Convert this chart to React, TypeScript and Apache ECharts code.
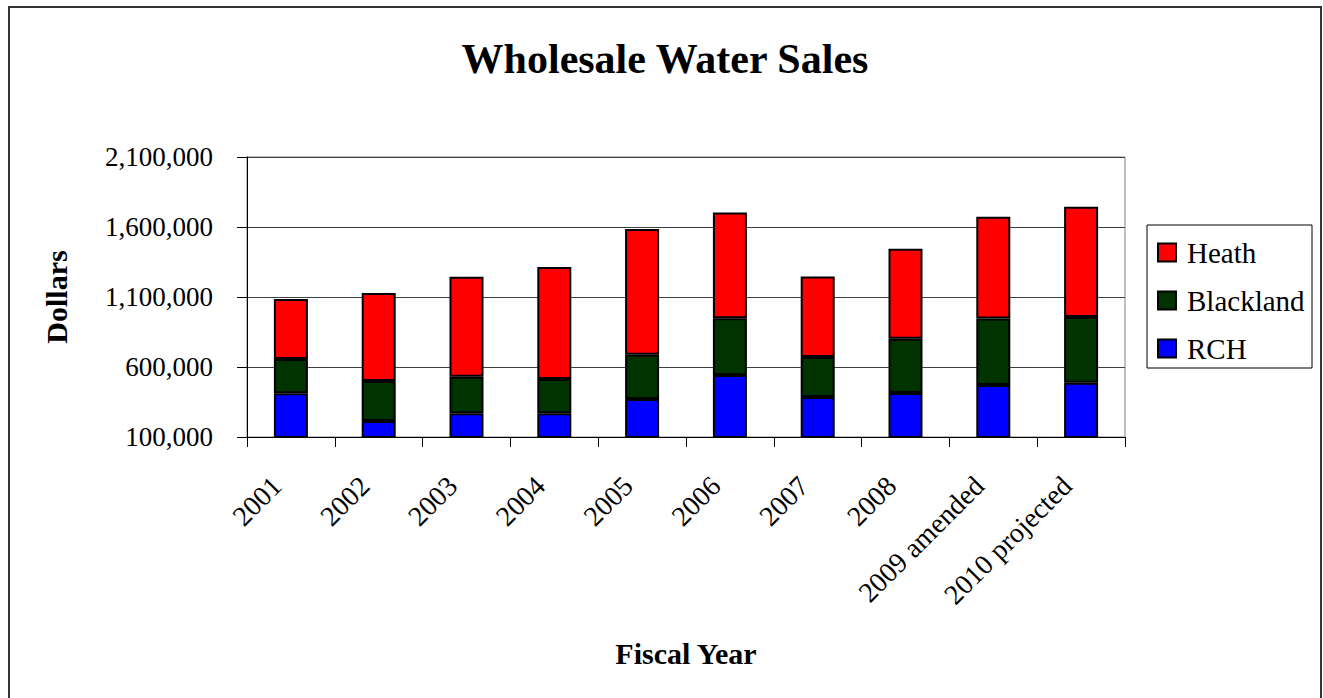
import React, { useEffect, useRef } from "react";
import * as echarts from "echarts";

const categories = ["2001", "2002", "2003", "2004", "2005", "2006", "2007", "2008", "2009 amended", "2010 projected"];
const rchValues = [412000, 214000, 269000, 269000, 371000, 543000, 386000, 414000, 471000, 488000];
const blacklandValues = [245000, 286000, 262000, 245000, 317000, 405000, 286000, 388000, 476000, 469000];
const heathValues = [429000, 629000, 714000, 800000, 898000, 755000, 574000, 643000, 726000, 788000];
const legendOrder = ["Heath", "Blackland", "RCH"];
const seriesColors: Record<string, string> = { Heath: "#FF0000", Blackland: "#003300", RCH: "#0000FF" };

const FONT = "'Liberation Serif', 'Times New Roman', serif";

export default function App() {
  const ref = useRef<HTMLDivElement>(null);
  useEffect(() => {
    document.body.style.overflow = "hidden";
    const chart = echarts.init(ref.current!, null, { renderer: "svg" });
    const barStyle = (color: string) => ({ color, borderColor: "#000", borderWidth: 2 });

    const legendLeft = 1137;
    const legendTop = 217;
    const legendGraphic: any[] = [
      {
        type: "rect",
        z: -1,
        shape: { x: legendLeft, y: legendTop, width: 165, height: 143 },
        style: { fill: "#fff", stroke: "#000", lineWidth: 1 },
      },
    ];
    const legendTitles: any[] = [];
    legendOrder.forEach((name, i) => {
      const cy = legendTop + 27.5 + i * 48;
      legendGraphic.push({
        type: "rect",
        shape: { x: legendLeft + 11, y: cy - 9, width: 18, height: 18 },
        style: { fill: seriesColors[name], stroke: "#000", lineWidth: 2 },
      });
      legendTitles.push({
        text: name,
        left: legendLeft + 40,
        top: cy - 15,
        padding: 0,
        textStyle: { fontFamily: FONT, fontWeight: "normal", fontSize: 29, lineHeight: 30, color: "#000" },
      });
    });

    chart.setOption({
      animation: false,
      backgroundColor: "#fff",
      textStyle: { fontFamily: FONT, color: "#000" },
      title: [
        {
          text: "Wholesale Water Sales",
          left: "center",
          top: 25,
          textStyle: { fontFamily: FONT, fontWeight: "bold", fontSize: 42, color: "#000", lineHeight: 42 },
        },
        ...legendTitles,
      ],
      graphic: legendGraphic,
      grid: {
        left: 237,
        top: 149,
        right: 195,
        height: 280,
        show: true,
        borderColor: "#808080",
        borderWidth: 1,
        backgroundColor: "transparent",
      },
      xAxis: {
        type: "category",
        data: categories,
        name: "Fiscal Year",
        nameLocation: "middle",
        nameGap: 201,
        nameTextStyle: { fontFamily: FONT, fontWeight: "bold", fontSize: 30, color: "#000" },
        axisLine: { lineStyle: { color: "#000", width: 1 } },
        axisTick: { show: true, length: 10, lineStyle: { color: "#000" } },
        axisLabel: {
          rotate: 45,
          margin: 30,
          padding: [0, 20, 0, 0],
          fontFamily: FONT,
          fontSize: 28,
          color: "#000",
          interval: 0,
        },
      },
      yAxis: {
        type: "value",
        min: 100000,
        max: 2100000,
        interval: 500000,
        name: "Dollars",
        nameLocation: "middle",
        nameGap: 176,
        nameTextStyle: { fontFamily: FONT, fontWeight: "bold", fontSize: 30, color: "#000" },
        axisLine: { show: true, lineStyle: { color: "#000", width: 1 } },
        axisTick: { show: true, length: 10, lineStyle: { color: "#000" } },
        splitLine: { show: true, lineStyle: { color: "#404040", width: 1 } },
        axisLabel: {
          margin: 34,
          fontFamily: FONT,
          fontSize: 27,
          color: "#000",
          formatter: (v: number) => v.toLocaleString("en-US"),
        },
      },
      series: [
        { name: "RCH", type: "bar", stack: "total", data: rchValues, barWidth: 34, itemStyle: barStyle(seriesColors.RCH) },
        { name: "Blackland", type: "bar", stack: "total", data: blacklandValues, barWidth: 34, itemStyle: barStyle(seriesColors.Blackland) },
        { name: "Heath", type: "bar", stack: "total", data: heathValues, barWidth: 34, itemStyle: barStyle(seriesColors.Heath) },
      ],
    });
    return () => chart.dispose();
  }, []);
  return (
    <div
      style={{
        position: "absolute",
        left: 8,
        top: 6,
        width: 1314,
        height: 720,
        boxSizing: "border-box",
        border: "2px solid #333",
        overflow: "hidden",
        background: "#fff",
      }}
    >
      <div ref={ref} style={{ width: 1310, height: 690 }} />
    </div>
  );
}
